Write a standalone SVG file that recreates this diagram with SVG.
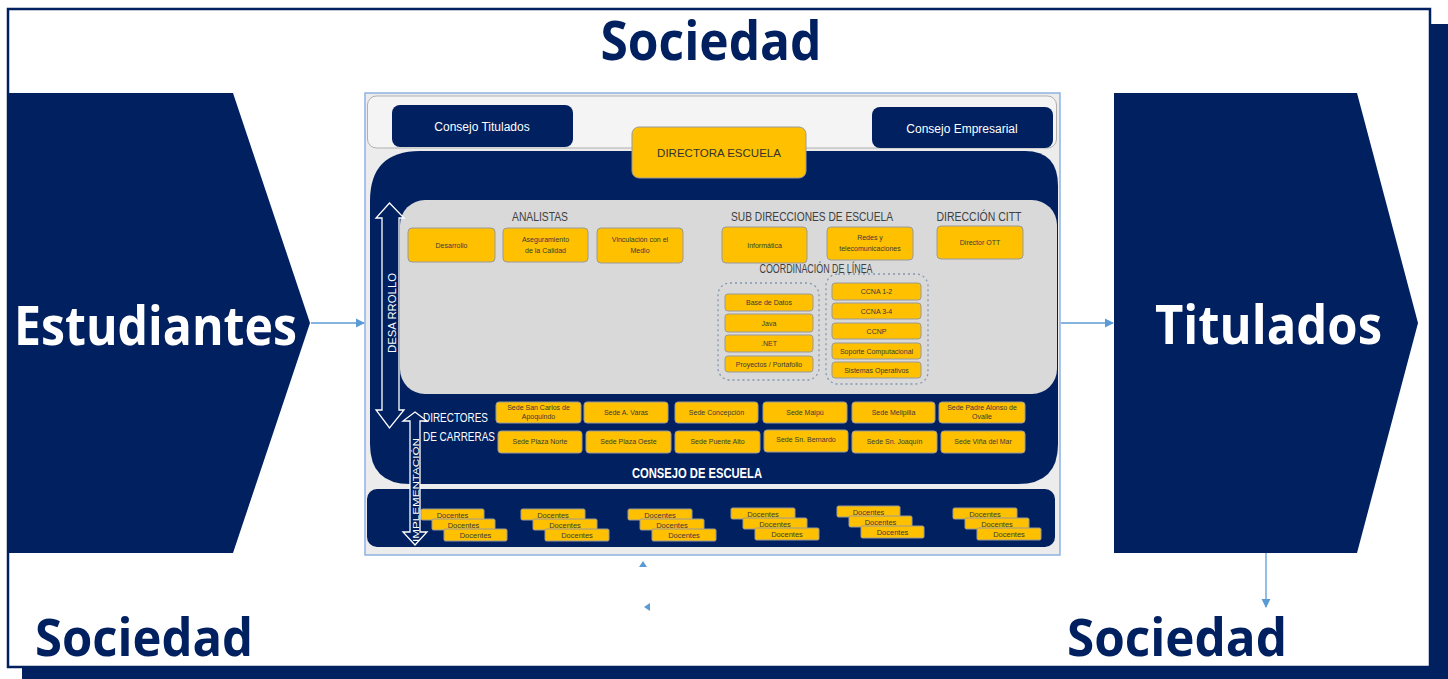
<svg xmlns="http://www.w3.org/2000/svg" width="1448" height="679" viewBox="0 0 1448 679">
<defs>
<style>
.navy{fill:#002060}
.yb{fill:#FFC000;stroke:#9a9a9a;stroke-width:1}
.yt{font-family:"Liberation Sans",Arial,sans-serif;font-size:7px;fill:#3a3a3a;text-anchor:middle}
.dt{font-family:"Liberation Sans",Arial,sans-serif;font-size:7.5px;fill:#3a3a3a;text-anchor:middle}
.wt{font-family:"Liberation Sans",Arial,sans-serif;fill:#ffffff}
.hd{font-family:"Liberation Sans",Arial,sans-serif;font-size:12px;fill:#404040;text-anchor:middle}
.big{font-family:"Open Sans","Liberation Sans",sans-serif;font-weight:bold}
.conn{stroke:#5b9bd5;stroke-width:1.3;fill:none}
.dash{fill:none;stroke:#8497b0;stroke-width:1.3;stroke-dasharray:2 3}
</style>
<marker id="ah" viewBox="0 0 10 10" refX="9" refY="5" markerWidth="7" markerHeight="7" orient="auto">
<path d="M0,0 L10,5 L0,10 z" fill="#5b9bd5"/>
</marker>
</defs>

<!-- frame -->
<g id="frame">
<rect x="1431" y="24" width="17" height="655" class="navy"/>
<rect x="22" y="668" width="1426" height="11" class="navy"/>
<rect x="8" y="9" width="1422" height="658" fill="#ffffff" stroke="#002060" stroke-width="2.5"/>
</g>

<g id="sociedad-top"><text x="711" y="60" class="big" font-size="54" fill="#002060" text-anchor="middle" textLength="221" lengthAdjust="spacingAndGlyphs">Sociedad</text></g>
<g id="sociedad-left"><text x="35" y="656" class="big" font-size="52" fill="#002060" textLength="218" lengthAdjust="spacingAndGlyphs">Sociedad</text></g>
<g id="sociedad-right"><text x="1067" y="656" class="big" font-size="52" fill="#002060" textLength="220" lengthAdjust="spacingAndGlyphs">Sociedad</text></g>

<!-- chevrons -->
<g id="estudiantes">
<polygon points="7,93 233,93 310,323 233,553 7,553" class="navy"/>
<text x="14" y="345" class="big" font-size="54" fill="#ffffff" textLength="283" lengthAdjust="spacingAndGlyphs">Estudiantes</text>
</g>
<g id="titulados">
<polygon points="1114,93 1357,93 1418,323 1357,553 1114,553" class="navy"/>
<text x="1155" y="344" class="big" font-size="54" fill="#ffffff" textLength="227" lengthAdjust="spacingAndGlyphs">Titulados</text>
</g>

<!-- central panel -->
<g id="panel">
<rect x="365" y="93" width="695" height="462" fill="#ececec" stroke="#8db3e2" stroke-width="1.5"/>
<rect x="367.5" y="96" width="689" height="52" rx="9" fill="#f4f4f4" stroke="#b0b0b0" stroke-width="1"/>
</g>

<g id="consejo-escuela">
<path d="M420,151 L1025,151 Q1058,151 1058,186 L1058,444 Q1058,484 1018,484 L410,484 Q370,484 370,444 L370,201 Q370,151 420,151 Z" class="navy"/>
<text x="697" y="478" class="wt" font-size="14" font-weight="bold" text-anchor="middle" textLength="130" lengthAdjust="spacingAndGlyphs">CONSEJO DE ESCUELA</text>
</g>

<g id="consejo-titulados">
<rect x="392" y="105" width="181" height="42" rx="8" class="navy"/>
<text x="482" y="131" class="wt" font-size="12" text-anchor="middle">Consejo Titulados</text>
</g>
<g id="consejo-empresarial">
<rect x="872" y="107" width="181" height="41" rx="8" class="navy"/>
<text x="962" y="133" class="wt" font-size="12" text-anchor="middle">Consejo Empresarial</text>
</g>
<g id="directora">
<rect x="632" y="127" width="174" height="51" rx="7" fill="#FFC000" stroke="#9a9a9a" stroke-width="1"/>
<text x="719" y="157" font-family="Liberation Sans,Arial,sans-serif" font-size="11.5" fill="#333333" text-anchor="middle">DIRECTORA ESCUELA</text>
</g>

<g id="area-gris">
<rect x="400" y="200" width="657" height="194" rx="25" fill="#d9d9d9"/>
<text x="540" y="221" class="hd" textLength="56" lengthAdjust="spacingAndGlyphs">ANALISTAS</text>
<text x="812" y="221" class="hd" textLength="162" lengthAdjust="spacingAndGlyphs">SUB DIRECCIONES DE ESCUELA</text>
<text x="979" y="221" class="hd" textLength="85" lengthAdjust="spacingAndGlyphs">DIRECCIÓN CITT</text>
<text x="816" y="273" class="hd" font-size="10" textLength="113" lengthAdjust="spacingAndGlyphs">COORDINACIÓN DE LÍNEA</text>
</g>

<g id="desarrollo"><rect x="408" y="228" width="87" height="34" rx="4" class="yb"/><text x="451.5" y="248" class="yt">Desarrollo</text></g>
<g id="aseguramiento"><rect x="503" y="228" width="85" height="34" rx="4" class="yb"/><text x="545.5" y="242" class="yt">Aseguramiento</text><text x="545.5" y="253" class="yt">de la Calidad</text></g>
<g id="vinculacion"><rect x="597" y="228" width="86" height="35" rx="4" class="yb"/><text x="640" y="242" class="yt">Vinculación con el</text><text x="640" y="253" class="yt">Medio</text></g>
<g id="informatica"><rect x="722" y="227" width="85" height="36" rx="4" class="yb"/><text x="764.5" y="248" class="yt">Informática</text></g>
<g id="redes"><rect x="827" y="227" width="86" height="33" rx="4" class="yb"/><text x="870" y="240" class="yt">Redes y</text><text x="870" y="251" class="yt">telecomunicaciones</text></g>
<g id="director-ott"><rect x="937" y="226" width="86" height="33" rx="4" class="yb"/><text x="980" y="245" class="yt">Director OTT</text></g>

<g id="grupo-linea-1">
<rect x="718" y="283" width="101" height="97" rx="12" class="dash"/>
</g>
<g id="grupo-linea-2">
<rect x="826" y="274" width="102" height="110" rx="12" class="dash"/>
</g>
<g id="base-datos"><rect x="725" y="294" width="88" height="17" rx="3" class="yb"/><text x="769" y="305" class="yt">Base de Datos</text></g>
<g id="java"><rect x="725" y="314" width="88" height="18" rx="3" class="yb"/><text x="769" y="326" class="yt">Java</text></g>
<g id="net"><rect x="725" y="335" width="88" height="17" rx="3" class="yb"/><text x="769" y="346" class="yt">.NET</text></g>
<g id="proyectos"><rect x="725" y="356" width="88" height="16" rx="3" class="yb"/><text x="769" y="367" class="yt">Proyectos / Portafolio</text></g>
<g id="ccna12"><rect x="832" y="283" width="89" height="17" rx="3" class="yb"/><text x="876.5" y="294" class="yt">CCNA 1-2</text></g>
<g id="ccna34"><rect x="832" y="303" width="89" height="16" rx="3" class="yb"/><text x="876.5" y="314" class="yt">CCNA 3-4</text></g>
<g id="ccnp"><rect x="832" y="323" width="89" height="16" rx="3" class="yb"/><text x="876.5" y="334" class="yt">CCNP</text></g>
<g id="soporte"><rect x="832" y="343" width="89" height="16" rx="3" class="yb"/><text x="876.5" y="354" class="yt">Soporte Computacional</text></g>
<g id="sistemas"><rect x="832" y="362" width="89" height="16" rx="3" class="yb"/><text x="876.5" y="373" class="yt">Sistemas Operativos</text></g>

<g id="directores-carreras">
<text x="423" y="422" class="wt" font-size="12.5" textLength="65" lengthAdjust="spacingAndGlyphs">DIRECTORES</text>
<text x="423" y="441" class="wt" font-size="12.5" textLength="72" lengthAdjust="spacingAndGlyphs">DE CARRERAS</text>
</g>

<g id="sede-san-carlos"><rect x="496" y="402" width="85" height="21" rx="3" class="yb"/><text x="538.5" y="410" class="yt">Sede San Carlos de</text><text x="538.5" y="419" class="yt">Apoquindo</text></g>
<g id="sede-varas"><rect x="584" y="402" width="84" height="21" rx="3" class="yb"/><text x="626" y="415" class="yt">Sede A. Varas</text></g>
<g id="sede-concepcion"><rect x="675" y="402" width="83" height="21" rx="3" class="yb"/><text x="716.5" y="415" class="yt">Sede Concepción</text></g>
<g id="sede-maipu"><rect x="763" y="402" width="84" height="21" rx="3" class="yb"/><text x="805" y="415" class="yt">Sede Maipú</text></g>
<g id="sede-melipilla"><rect x="852" y="402" width="83" height="21" rx="3" class="yb"/><text x="893.5" y="415" class="yt">Sede Melipilla</text></g>
<g id="sede-ovalle"><rect x="939" y="402" width="86" height="21" rx="3" class="yb"/><text x="982" y="410" class="yt">Sede Padre Alonso de</text><text x="982" y="419" class="yt">Ovalle</text></g>
<g id="sede-plaza-norte"><rect x="498" y="431" width="84" height="22" rx="3" class="yb"/><text x="540" y="444" class="yt">Sede Plaza Norte</text></g>
<g id="sede-plaza-oeste"><rect x="586" y="431" width="85" height="22" rx="3" class="yb"/><text x="628.5" y="444" class="yt">Sede Plaza Oeste</text></g>
<g id="sede-puente-alto"><rect x="675" y="431" width="85" height="22" rx="3" class="yb"/><text x="717.5" y="444" class="yt">Sede Puente Alto</text></g>
<g id="sede-san-bernardo"><rect x="764" y="430" width="84" height="22" rx="3" class="yb"/><text x="806" y="442" class="yt">Sede Sn. Bernardo</text></g>
<g id="sede-san-joaquin"><rect x="852" y="431" width="85" height="22" rx="3" class="yb"/><text x="894.5" y="444" class="yt">Sede Sn. Joaquín</text></g>
<g id="sede-vina"><rect x="941" y="431" width="84" height="22" rx="3" class="yb"/><text x="983" y="444" class="yt">Sede Viña del Mar</text></g>

<g id="docentes-banda">
<rect x="367" y="489" width="688" height="58" rx="10" class="navy"/>
</g>

<g id="docentes-1">
<rect x="421" y="509" width="63" height="11" rx="1.5" class="yb"/><text x="452.5" y="517.5" class="dt">Docentes</text>
<rect x="432" y="519" width="63" height="11" rx="1.5" class="yb"/><text x="463.5" y="527.5" class="dt">Docentes</text>
<rect x="444" y="529" width="63" height="12" rx="1.5" class="yb"/><text x="475.5" y="538" class="dt">Docentes</text>
</g>
<g id="docentes-2">
<rect x="521" y="509" width="64" height="11" rx="1.5" class="yb"/><text x="553" y="517.5" class="dt">Docentes</text>
<rect x="533" y="519" width="64" height="11" rx="1.5" class="yb"/><text x="565" y="527.5" class="dt">Docentes</text>
<rect x="545" y="529" width="64" height="12" rx="1.5" class="yb"/><text x="577" y="538" class="dt">Docentes</text>
</g>
<g id="docentes-3">
<rect x="628" y="509" width="64" height="11" rx="1.5" class="yb"/><text x="660" y="517.5" class="dt">Docentes</text>
<rect x="640" y="519" width="64" height="11" rx="1.5" class="yb"/><text x="672" y="527.5" class="dt">Docentes</text>
<rect x="652" y="529" width="64" height="12" rx="1.5" class="yb"/><text x="684" y="538" class="dt">Docentes</text>
</g>
<g id="docentes-4">
<rect x="731" y="508" width="64" height="11" rx="1.5" class="yb"/><text x="763" y="516.5" class="dt">Docentes</text>
<rect x="743" y="518" width="64" height="11" rx="1.5" class="yb"/><text x="775" y="526.5" class="dt">Docentes</text>
<rect x="755" y="528" width="64" height="12" rx="1.5" class="yb"/><text x="787" y="537" class="dt">Docentes</text>
</g>
<g id="docentes-5">
<rect x="837" y="506" width="63" height="11" rx="1.5" class="yb"/><text x="868.5" y="514.5" class="dt">Docentes</text>
<rect x="849" y="516" width="63" height="11" rx="1.5" class="yb"/><text x="880.5" y="524.5" class="dt">Docentes</text>
<rect x="861" y="526" width="63" height="12" rx="1.5" class="yb"/><text x="892.5" y="535" class="dt">Docentes</text>
</g>
<g id="docentes-6">
<rect x="953" y="508" width="64" height="11" rx="1.5" class="yb"/><text x="985" y="516.5" class="dt">Docentes</text>
<rect x="965" y="518" width="64" height="11" rx="1.5" class="yb"/><text x="997" y="526.5" class="dt">Docentes</text>
<rect x="977" y="528" width="64" height="12" rx="1.5" class="yb"/><text x="1009" y="537" class="dt">Docentes</text>
</g>

<g id="flecha-desarrollo">
<polygon points="389.5,203 404,218 399,218 399,410 404,410 389.5,428 376,410 382,410 382,218 376,218" fill="#002060" stroke="#ffffff" stroke-width="1.3"/>
<text transform="translate(396,313) rotate(-90)" class="wt" font-size="11.5" text-anchor="middle" textLength="80" lengthAdjust="spacingAndGlyphs">DESA RROLLO</text>
</g>
<g id="flecha-implementacion">
<polygon points="415,412 427,421 420,421 420,532 427,532 415,545 403,532 410,532 410,421 403,421" fill="#002060" stroke="#ffffff" stroke-width="1.3"/>
<text transform="translate(419,490) rotate(-90)" class="wt" font-size="9.5" text-anchor="middle" textLength="104" lengthAdjust="spacingAndGlyphs">IMPLEMENTACIÓN</text>
</g>

<g id="connectors">
<line x1="311" y1="323" x2="364" y2="323" class="conn" marker-end="url(#ah)"/>
<line x1="1061" y1="323" x2="1113" y2="323" class="conn" marker-end="url(#ah)"/>
<line x1="1266" y1="553" x2="1266" y2="607" class="conn" marker-end="url(#ah)"/>
<path d="M643,561 L647,567 L639,567 Z" fill="#5b9bd5"/>
<path d="M644,607 L650,603 L650,611 Z" fill="#5b9bd5"/>
</g>
</svg>
